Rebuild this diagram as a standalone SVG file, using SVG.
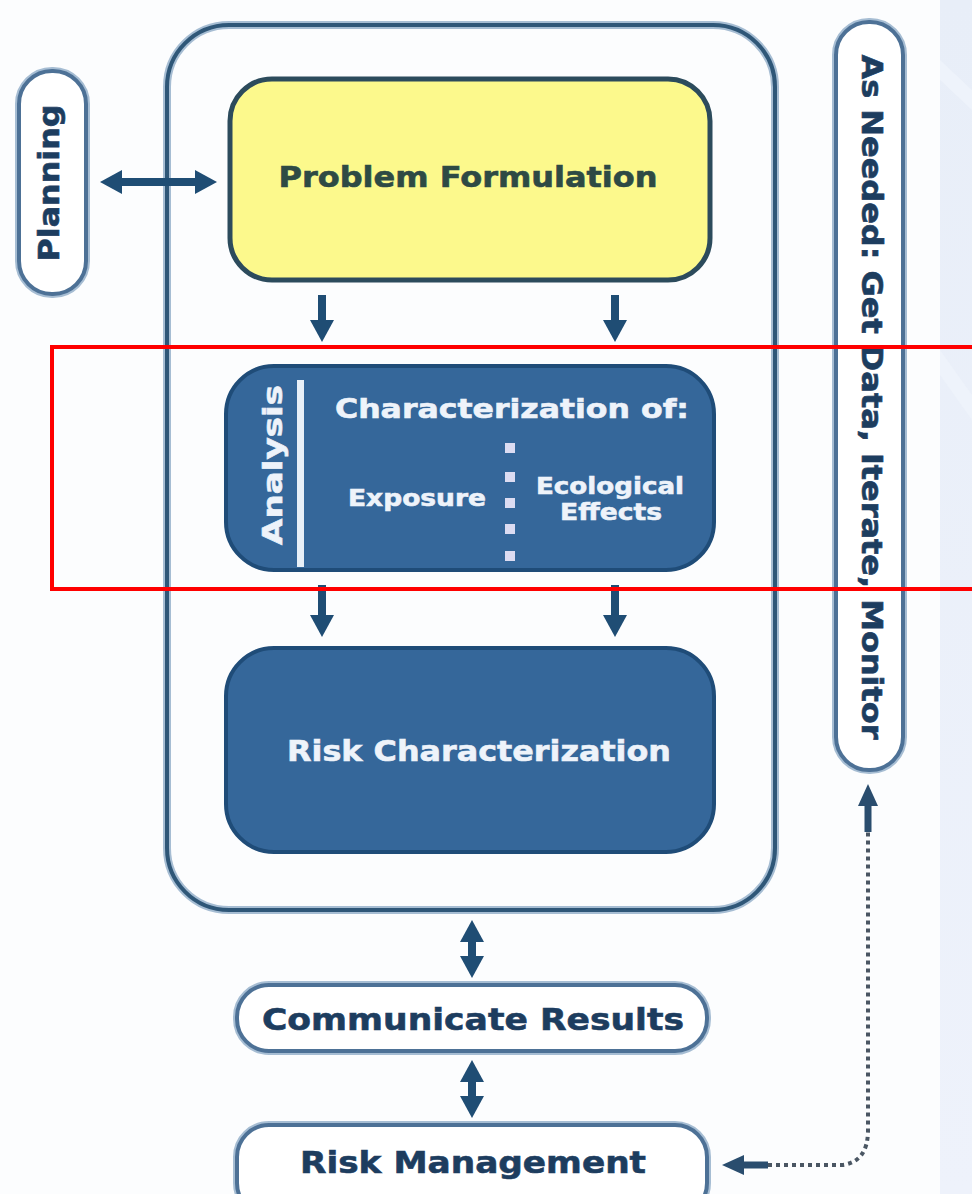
<svg xmlns="http://www.w3.org/2000/svg" width="972" height="1194" viewBox="0 0 972 1194">
<defs>
<linearGradient id="panel" x1="0" y1="0" x2="0" y2="1">
<stop offset="0" stop-color="#e8eef8"/>
<stop offset="1" stop-color="#eef2fb"/>
</linearGradient>
<marker id="ah" viewBox="0 0 22 24" refX="2" refY="12" markerWidth="22" markerHeight="24" markerUnits="userSpaceOnUse" orient="auto-start-reverse">
<path d="M0,0 L22,12 L0,24 Z" fill="#1f4d74"/>
</marker>
<marker id="ahs" viewBox="0 0 22 20" refX="2" refY="10" markerWidth="22" markerHeight="20" markerUnits="userSpaceOnUse" orient="auto-start-reverse">
<path d="M0,0 L22,10 L0,20 Z" fill="#2a4d6e"/>
</marker>
</defs>
<style>
.t{font-family:"DejaVu Sans","Liberation Sans",sans-serif;font-weight:bold;stroke-width:0.6}
.navy{fill:#1d3d5f;stroke:#1d3d5f}
.wht{fill:#eef3fa;stroke:#eef3fa}
.halo{fill:none;stroke:#a6bdd3;stroke-width:8}
.pill{fill:#ffffff;stroke:#4d7196;stroke-width:4}
.dark{fill:#35679a;stroke:#1f4c78;stroke-width:4}
.arr{stroke:#1f4d74;stroke-width:8;fill:none}
.dot{stroke:#4a5663;stroke-width:4;fill:none;stroke-dasharray:4 4}
</style>
<rect x="0" y="0" width="972" height="1194" fill="#fcfdfe"/>
<rect x="940" y="0" width="32" height="1194" fill="url(#panel)"/>
<path d="M940,60 L972,90 L972,110 L940,80 Z M940,350 L972,395 L972,420 L940,375 Z" fill="#eef3fb"/>

<g id="outer">
<rect class="halo" x="167" y="25" width="608" height="885" rx="62"/>
<rect x="167" y="25" width="608" height="885" rx="62" fill="none" stroke="#2f5778" stroke-width="4"/>
</g>

<g id="planning">
<rect class="halo" x="19" y="71" width="67" height="223" rx="33"/>
<rect class="pill" x="19" y="71" width="67" height="223" rx="33"/>
<text class="t navy" font-size="29" text-anchor="middle" textLength="157" lengthAdjust="spacingAndGlyphs" transform="translate(59,183) rotate(-90)">Planning</text>
</g>

<g id="problem-formulation">
<rect x="230" y="79" width="480" height="201" rx="42" fill="#fcf98c" stroke="#2c4b5c" stroke-width="5"/>
<text class="t" fill="#2e4a44" stroke="#2e4a44" font-size="28" x="468" y="187" text-anchor="middle" textLength="379" lengthAdjust="spacingAndGlyphs">Problem Formulation</text>
</g>

<g id="analysis">
<rect class="dark" x="226" y="366" width="488" height="204" rx="48"/>
<text class="t wht" font-size="27" text-anchor="middle" textLength="160" lengthAdjust="spacingAndGlyphs" transform="translate(282,465) rotate(-90)">Analysis</text>
<rect x="297" y="380" width="7" height="187" fill="#e8f0f8"/>
<text class="t wht" font-size="27" x="512" y="418" text-anchor="middle" textLength="354" lengthAdjust="spacingAndGlyphs">Characterization of:</text>
<text class="t wht" font-size="23" x="417" y="506" text-anchor="middle" textLength="138" lengthAdjust="spacingAndGlyphs">Exposure</text>
<text class="t wht" font-size="23" x="610" y="494" text-anchor="middle" textLength="148" lengthAdjust="spacingAndGlyphs">Ecological</text>
<text class="t wht" font-size="23" x="611" y="520" text-anchor="middle" textLength="102" lengthAdjust="spacingAndGlyphs">Effects</text>
<g fill="#dcdcf2">
<rect x="505" y="443" width="10" height="10"/>
<rect x="505" y="472" width="10" height="10"/>
<rect x="505" y="498" width="10" height="10"/>
<rect x="505" y="524" width="10" height="10"/>
<rect x="505" y="551" width="10" height="10"/>
</g>
</g>

<g id="risk-characterization">
<rect class="dark" x="226" y="648" width="488" height="204" rx="48"/>
<text class="t wht" font-size="29" x="479" y="761" text-anchor="middle" textLength="384" lengthAdjust="spacingAndGlyphs">Risk Characterization</text>
</g>

<g id="communicate-results">
<rect class="halo" x="237" y="985" width="470" height="66" rx="32"/>
<rect class="pill" x="237" y="985" width="470" height="66" rx="32"/>
<text class="t navy" font-size="31" x="473" y="1030" text-anchor="middle" textLength="422" lengthAdjust="spacingAndGlyphs">Communicate Results</text>
</g>

<g id="risk-management">
<rect class="halo" x="237" y="1125" width="470" height="90" rx="32"/>
<rect class="pill" x="237" y="1125" width="470" height="90" rx="32"/>
<text class="t navy" font-size="31" x="473" y="1173" text-anchor="middle" textLength="346" lengthAdjust="spacingAndGlyphs">Risk Management</text>
</g>

<g id="as-needed">
<rect class="halo" x="836" y="22" width="67" height="748" rx="33"/>
<rect class="pill" x="836" y="22" width="67" height="748" rx="33"/>
<text class="t navy" font-size="28" text-anchor="middle" textLength="685" lengthAdjust="spacingAndGlyphs" transform="translate(862,397) rotate(90)">As Needed: Get Data, Iterate, Monitor</text>
</g>

<g id="connectors">
<line class="arr" x1="120" y1="182" x2="197" y2="182" marker-start="url(#ah)" marker-end="url(#ah)"/>
<line class="arr" x1="322" y1="295" x2="322" y2="322" marker-end="url(#ah)"/>
<line class="arr" x1="615" y1="295" x2="615" y2="322" marker-end="url(#ah)"/>
<line class="arr" x1="322" y1="585" x2="322" y2="617" marker-end="url(#ah)"/>
<line class="arr" x1="615" y1="585" x2="615" y2="617" marker-end="url(#ah)"/>
<line class="arr" x1="472" y1="940" x2="472" y2="958" marker-start="url(#ah)" marker-end="url(#ah)"/>
<line class="arr" x1="472" y1="1080" x2="472" y2="1098" marker-start="url(#ah)" marker-end="url(#ah)"/>
<path class="dot" d="M768,1165 L842,1165 Q868,1162 868,1130 L868,832"/>
<line stroke="#2a4d6e" stroke-width="7" x1="768" y1="1165" x2="742" y2="1165" marker-end="url(#ahs)"/>
<line stroke="#2a4d6e" stroke-width="7" x1="868" y1="832" x2="868" y2="804" marker-end="url(#ahs)"/>
</g>

<rect x="52" y="347" width="940" height="242" fill="none" stroke="#ff0000" stroke-width="4"/>
</svg>
